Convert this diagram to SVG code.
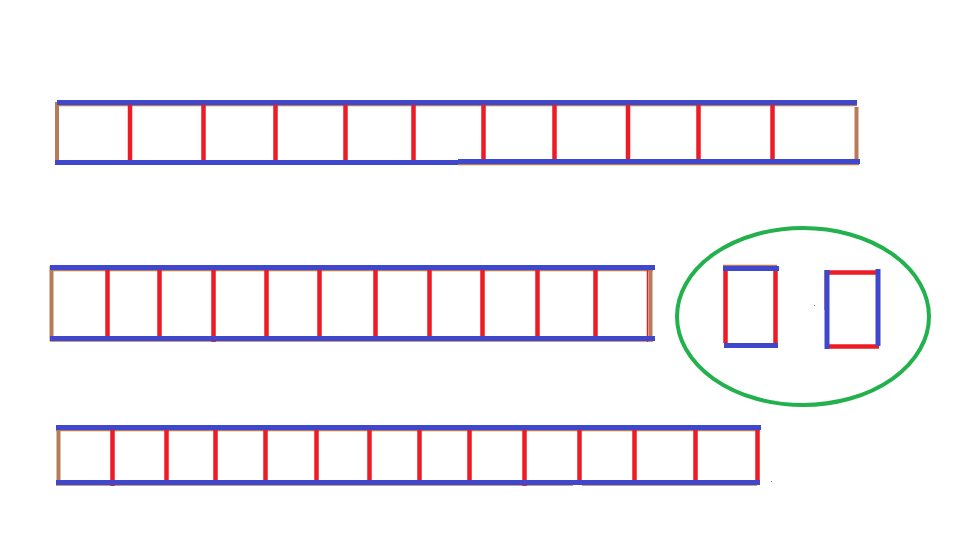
<svg xmlns="http://www.w3.org/2000/svg" width="960" height="540" viewBox="0 0 960 540">
<style>
.rail{stroke:#3F48CC;stroke-width:5;stroke-linecap:butt;fill:none}
.rung{stroke:#ED1C24;stroke-width:4.5;fill:none}
.end{stroke:#B97A57;stroke-width:4;fill:none}
.edge{stroke:#B97A57;stroke-width:1.5;fill:none}
</style>
<rect width="960" height="540" fill="#fff"/>
<g id="ladder1">
  <line class="edge" x1="57" y1="105.5" x2="857" y2="105.5"/>
  <line class="edge" x1="458" y1="164.5" x2="859" y2="164.5"/>
  <line class="end" x1="57" y1="102" x2="57" y2="165"/>
  <line class="end" x1="856.5" y1="107" x2="856.5" y2="162"/>
  <g class="rung">
    <line x1="130" y1="104" x2="130" y2="161"/>
    <line x1="203.5" y1="104" x2="203.5" y2="161"/>
    <line x1="275.5" y1="104" x2="275.5" y2="160"/>
    <line x1="345.5" y1="104" x2="345.5" y2="161"/>
    <line x1="413.5" y1="104" x2="413.5" y2="161"/>
    <line x1="483.5" y1="104" x2="483.5" y2="160"/>
    <line x1="554.5" y1="104" x2="554.5" y2="160"/>
    <line x1="628" y1="104" x2="628" y2="160"/>
    <line x1="698.5" y1="104" x2="698.5" y2="160"/>
    <line x1="772.5" y1="104" x2="772.5" y2="164"/>
  </g>
  <line class="rail" x1="57" y1="102.5" x2="857" y2="102.5"/>
  <line class="rail" x1="55" y1="162.5" x2="458" y2="162.5"/>
  <line class="rail" x1="458" y1="161.5" x2="860" y2="161.5"/>
</g>
<g id="ladder2">
  <line class="edge" x1="50" y1="270.5" x2="653" y2="270.5"/>
  <line class="edge" x1="50" y1="341" x2="653" y2="341"/>
  <line class="end" x1="51.5" y1="266" x2="51.5" y2="341"/>
  <line class="end" x1="650.5" y1="270" x2="650.5" y2="340"/>
  <g class="rung">
    <line x1="107.5" y1="269" x2="107.5" y2="341"/>
    <line x1="159.5" y1="269" x2="159.5" y2="338"/>
    <line x1="213.5" y1="269" x2="213.5" y2="342"/>
    <line x1="266.5" y1="269" x2="266.5" y2="338"/>
    <line x1="319.5" y1="269" x2="319.5" y2="338"/>
    <line x1="375.5" y1="269" x2="375.5" y2="341"/>
    <line x1="429.5" y1="269" x2="429.5" y2="338"/>
    <line x1="482.5" y1="269" x2="482.5" y2="338"/>
    <line x1="537.5" y1="269" x2="537.5" y2="338"/>
    <line x1="595.5" y1="269" x2="595.5" y2="338"/>
    <line x1="647.5" y1="269" x2="647.5" y2="342" style="stroke-width:1.5"/>
  </g>
  <line class="rail" x1="50" y1="267.5" x2="655" y2="267.5"/>
  <line class="rail" x1="50" y1="338.5" x2="655" y2="338.5"/>
</g>
<g id="ladder3">
  <line class="edge" x1="56" y1="430.5" x2="760" y2="430.5"/>
  <line class="edge" x1="56" y1="485" x2="573" y2="485"/>
  <line class="edge" x1="582" y1="485" x2="757" y2="485"/>
  <line class="end" x1="58.5" y1="427" x2="58.5" y2="485"/>
  <g class="rung">
    <line x1="112.5" y1="429" x2="112.5" y2="486"/>
    <line x1="166.5" y1="429" x2="166.5" y2="481"/>
    <line x1="215.5" y1="429" x2="215.5" y2="481"/>
    <line x1="265.5" y1="429" x2="265.5" y2="481"/>
    <line x1="316.5" y1="429" x2="316.5" y2="485"/>
    <line x1="369.5" y1="429" x2="369.5" y2="481"/>
    <line x1="419.5" y1="429" x2="419.5" y2="481"/>
    <line x1="469.5" y1="429" x2="469.5" y2="481"/>
    <line x1="524.5" y1="429" x2="524.5" y2="486"/>
    <line x1="579.5" y1="429" x2="579.5" y2="481"/>
    <line x1="634.5" y1="429" x2="634.5" y2="481"/>
    <line x1="695.5" y1="429" x2="695.5" y2="481"/>
    <line x1="757.5" y1="429" x2="757.5" y2="485"/>
  </g>
  <line class="rail" x1="56" y1="427.5" x2="761" y2="427.5"/>
  <line class="rail" x1="56" y1="482.5" x2="760" y2="482.5"/>
  <rect x="771" y="481" width="1" height="1" fill="#B97A57"/>
</g>
<g id="legend">
  <ellipse cx="803" cy="316.5" rx="126" ry="88.5" fill="none" stroke="#22B14C" stroke-width="4"/>
  <g id="legend-left">
    <line class="edge" x1="723" y1="265.5" x2="777" y2="265.5"/>
    <line class="rung" x1="725.5" y1="268" x2="725.5" y2="343"/>
    <line class="rung" x1="775.5" y1="268" x2="775.5" y2="345"/>
    <line class="rail" x1="723" y1="268.5" x2="779" y2="268.5"/>
    <line class="rail" x1="724" y1="345.5" x2="778" y2="345.5"/>
  </g>
  <g id="legend-right">
    <line class="edge" x1="825" y1="270" x2="825" y2="310"/>
    <line class="rung" x1="828" y1="272.5" x2="876" y2="272.5"/>
    <line class="rung" x1="828" y1="346.5" x2="879" y2="346.5"/>
    <line class="rail" x1="827" y1="270" x2="827" y2="349"/>
    <line class="rail" x1="878" y1="269" x2="878" y2="346"/>
  </g>
  <rect x="814" y="305" width="1" height="1" fill="#B97A57"/>
</g>
</svg>
